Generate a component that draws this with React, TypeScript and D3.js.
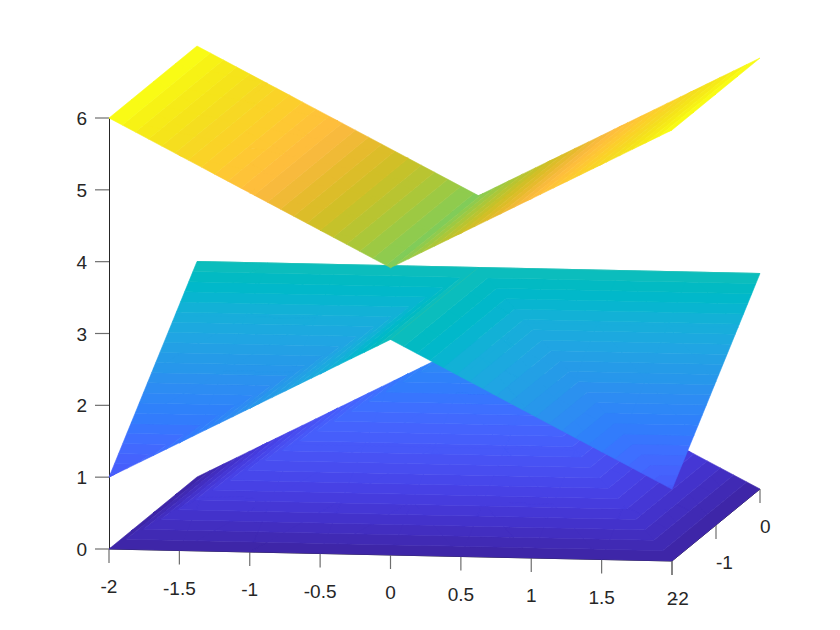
import React from 'react';
import * as d3 from 'd3';

const xValues = [-2, -1.5, -1, -0.5, 0, 0.5, 1, 1.5, 2];
const yValues = [-2, -1.5, -1, -0.5, 0];

// z at each grid vertex, one row per y value
const zUpper = [
  [6, 5.5, 5, 4.5, 4, 4.5, 5, 5.5, 6],
  [6, 5.5, 5, 4.5, 4, 4.5, 5, 5.5, 6],
  [6, 5.5, 5, 4.5, 4, 4.5, 5, 5.5, 6],
  [6, 5.5, 5, 4.5, 4, 4.5, 5, 5.5, 6],
  [6, 5.5, 5, 4.5, 4, 4.5, 5, 5.5, 6],
];
const zMiddle = [
  [1, 1.5, 2, 2.5, 3, 2.5, 2, 1.5, 1],
  [1.5, 1.5, 2, 2.5, 3, 2.5, 2, 1.5, 1.5],
  [2, 2, 2, 2.5, 3, 2.5, 2, 2, 2],
  [2.5, 2.5, 2.5, 2.5, 3, 2.5, 2.5, 2.5, 2.5],
  [3, 3, 3, 3, 3, 3, 3, 3, 3],
];
const zLower = [
  [0, 0, 0, 0, 0, 0, 0, 0, 0],
  [0, 0.5, 0.5, 0.5, 0.5, 0.5, 0.5, 0.5, 0],
  [0, 0.5, 1, 1, 1, 1, 1, 0.5, 0],
  [0, 0.5, 1, 1.5, 1.5, 1.5, 1, 0.5, 0],
  [0, 0.5, 1, 1.5, 2, 1.5, 1, 0.5, 0],
];

const xTicks = [-2, -1.5, -1, -0.5, 0, 0.5, 1, 1.5, 2];
const yTicks = [-2, -1, 0];
const zTicks = [0, 1, 2, 3, 4, 5, 6];

const parula = [
  [0.2422, 0.1504, 0.6603], [0.2504, 0.165, 0.7076], [0.2578, 0.1818, 0.7511], [0.2647, 0.1978, 0.7952],
  [0.2706, 0.2147, 0.8364], [0.2751, 0.2342, 0.871], [0.2783, 0.2559, 0.8991], [0.2803, 0.2782, 0.9221],
  [0.2813, 0.3006, 0.9414], [0.281, 0.3228, 0.9579], [0.2795, 0.3447, 0.9717], [0.276, 0.3667, 0.9829],
  [0.2699, 0.3892, 0.9906], [0.2602, 0.4123, 0.9952], [0.244, 0.4358, 0.9988], [0.2206, 0.4603, 0.9973],
  [0.1963, 0.4847, 0.9892], [0.1834, 0.5074, 0.9798], [0.1786, 0.5289, 0.9682], [0.1764, 0.5499, 0.952],
  [0.1687, 0.5703, 0.9359], [0.154, 0.5902, 0.9218], [0.146, 0.6091, 0.9079], [0.138, 0.6276, 0.8973],
  [0.1248, 0.6459, 0.8883], [0.1113, 0.6635, 0.8763], [0.0952, 0.6798, 0.8598], [0.0689, 0.6948, 0.8394],
  [0.0297, 0.7082, 0.8163], [0.0036, 0.7203, 0.7917], [0.0067, 0.7312, 0.766], [0.0433, 0.7411, 0.7394],
  [0.0964, 0.75, 0.712], [0.1408, 0.7584, 0.6842], [0.1717, 0.767, 0.6554], [0.1938, 0.7758, 0.6251],
  [0.2161, 0.7843, 0.5923], [0.247, 0.7918, 0.5567], [0.2906, 0.7973, 0.5188], [0.3406, 0.8008, 0.4789],
  [0.3909, 0.8029, 0.4354], [0.4456, 0.8024, 0.3909], [0.5044, 0.7993, 0.348], [0.5616, 0.7942, 0.3045],
  [0.6174, 0.7876, 0.2612], [0.672, 0.7793, 0.2227], [0.7242, 0.7698, 0.191], [0.7738, 0.7598, 0.1646],
  [0.8203, 0.7498, 0.1535], [0.8634, 0.7406, 0.1596], [0.9035, 0.733, 0.1774], [0.9393, 0.7288, 0.21],
  [0.9728, 0.7298, 0.2394], [0.9956, 0.7434, 0.2371], [0.997, 0.7659, 0.2199], [0.9952, 0.7861, 0.199],
  [0.9892, 0.8082, 0.1717], [0.9786, 0.8273, 0.1546], [0.9676, 0.8484, 0.1423], [0.961, 0.872, 0.1209],
  [0.9597, 0.8949, 0.1006], [0.9628, 0.9163, 0.0956], [0.9691, 0.9476, 0.082], [0.9769, 0.9839, 0.0805],
];

// oblique 3d projection, each axis adds its own screen offset
const xToPx = d3.scaleLinear().domain([-2, 2]).range([109, 672]);
const xToDrop = d3.scaleLinear().domain([-2, 2]).range([549, 561]);
const yToPx = d3.scaleLinear().domain([-2, 0]).range([0, 88]);
const yToRise = d3.scaleLinear().domain([-2, 0]).range([0, 72]);
const zToRise = d3.scaleLinear().domain([0, 6]).range([0, 431]);

type P3 = [number, number, number];
const project = (p: P3): [number, number] => [
  xToPx(p[0]) + yToPx(p[1]),
  xToDrop(p[0]) - yToRise(p[1]) - zToRise(p[2]),
];

const zColor = d3.scaleLinear().domain([0, 6]).range([0, parula.length]);
const colorOf = (k: number) => {
  const c = parula[k];
  return d3.rgb(c[0] * 255, c[1] * 255, c[2] * 255).formatHex();
};

// keep the part of a polygon on one side of a z level
function clipZ(poly: P3[], level: number, keepAbove: boolean): P3[] {
  const out: P3[] = [];
  poly.forEach((a, i) => {
    const b = poly[(i + 1) % poly.length];
    const aIn = keepAbove ? a[2] >= level : a[2] <= level;
    const bIn = keepAbove ? b[2] >= level : b[2] <= level;
    if (aIn) out.push(a);
    if (aIn !== bIn) {
      const t = (level - a[2]) / (b[2] - a[2]);
      out.push([a[0] + t * (b[0] - a[0]), a[1] + t * (b[1] - a[1]), level]);
    }
  });
  return out;
}

const polyPath = d3.line().curve(d3.curveLinearClosed);

// one compound path per colour band, so no seams show inside a band
function surfaceBands(zGrid: number[][]) {
  const bands = new Map<number, string>();
  const addTriangle = (tri: P3[]) => {
    const zs = tri.map((p) => p[2]);
    const kMin = Math.floor(zColor(d3.min(zs)!));
    const kMax = Math.min(parula.length - 1, Math.floor(zColor(d3.max(zs)!)));
    for (let k = kMin; k <= kMax; k++) {
      const part = clipZ(clipZ(tri, zColor.invert(k), true), zColor.invert(k + 1), false);
      if (part.length < 3) continue;
      bands.set(k, (bands.get(k) || '') + polyPath(part.map(project)));
    }
  };
  for (let j = 0; j < yValues.length - 1; j++) {
    for (let i = 0; i < xValues.length - 1; i++) {
      const v = (a: number, b: number): P3 => [xValues[a], yValues[b], zGrid[b][a]];
      const a = v(i, j), b = v(i + 1, j), c = v(i + 1, j + 1), d = v(i, j + 1);
      // split along the surface crease
      if (xValues[i] < 0) {
        addTriangle([a, b, c]);
        addTriangle([a, c, d]);
      } else {
        addTriangle([a, b, d]);
        addTriangle([b, c, d]);
      }
    }
  }
  return d3.sort(Array.from(bands.keys())).map((k) => ({ d: bands.get(k)!, fill: colorOf(k) }));
}

const surfaces = [zLower, zMiddle, zUpper];
const tickColor = '#6e6e6e';
const textColor = '#262626';
const fontSize = 19;

export default function App() {
  const bottomLeft = project([-2, -2, 0]);
  const bottomRight = project([2, -2, 0]);
  const farRight = project([2, 0, 0]);
  const zTop = project([-2, -2, 6]);

  return (
    <svg
      width={840}
      height={630}
      style={{ position: 'absolute', left: 0, top: 0, display: 'block', background: '#fff' }}
      fontFamily="'Liberation Sans', Arial, sans-serif"
      fontSize={fontSize}
      fill={textColor}
    >
      {/* axes go under the surfaces */}
      <g fill="none" stroke="#262626" strokeWidth={1}>
        <line x1={bottomLeft[0] + 0.5} x2={bottomLeft[0] + 0.5} y1={zTop[1]} y2={bottomLeft[1]} />
        <line x1={bottomLeft[0]} y1={bottomLeft[1]} x2={bottomRight[0]} y2={bottomRight[1]} />
        <line x1={bottomRight[0]} y1={bottomRight[1]} x2={farRight[0]} y2={farRight[1]} />
      </g>
      {zTicks.map((t) => {
        const [px, py] = project([-2, -2, t]);
        return (
          <g key={`z${t}`}>
            <line x1={px - 14} x2={px} y1={py} y2={py} stroke={tickColor} strokeWidth={1.2} />
            <text x={px - 22} y={py + 7} textAnchor="end">{t}</text>
          </g>
        );
      })}
      {xTicks.map((t) => {
        const [px, py] = project([t, -2, 0]);
        return (
          <g key={`x${t}`}>
            <line x1={px} x2={px} y1={py} y2={py + 14} stroke={tickColor} strokeWidth={1.2} />
            <text x={px} y={py + 44} textAnchor="middle">{t}</text>
          </g>
        );
      })}
      {yTicks.map((t) => {
        const [px, py] = project([2, t, 0]);
        return (
          <g key={`y${t}`}>
            <line x1={px} x2={px} y1={py} y2={py + 14} stroke={tickColor} strokeWidth={1.2} />
            <text x={px} y={py + 44}>{t}</text>
          </g>
        );
      })}
      {surfaces.map((grid, s) => (
        <g key={s} strokeWidth={0.6} strokeLinejoin="round">
          {surfaceBands(grid).map((b) => (
            <path key={b.fill} d={b.d} fill={b.fill} stroke={b.fill} />
          ))}
        </g>
      ))}
    </svg>
  );
}
